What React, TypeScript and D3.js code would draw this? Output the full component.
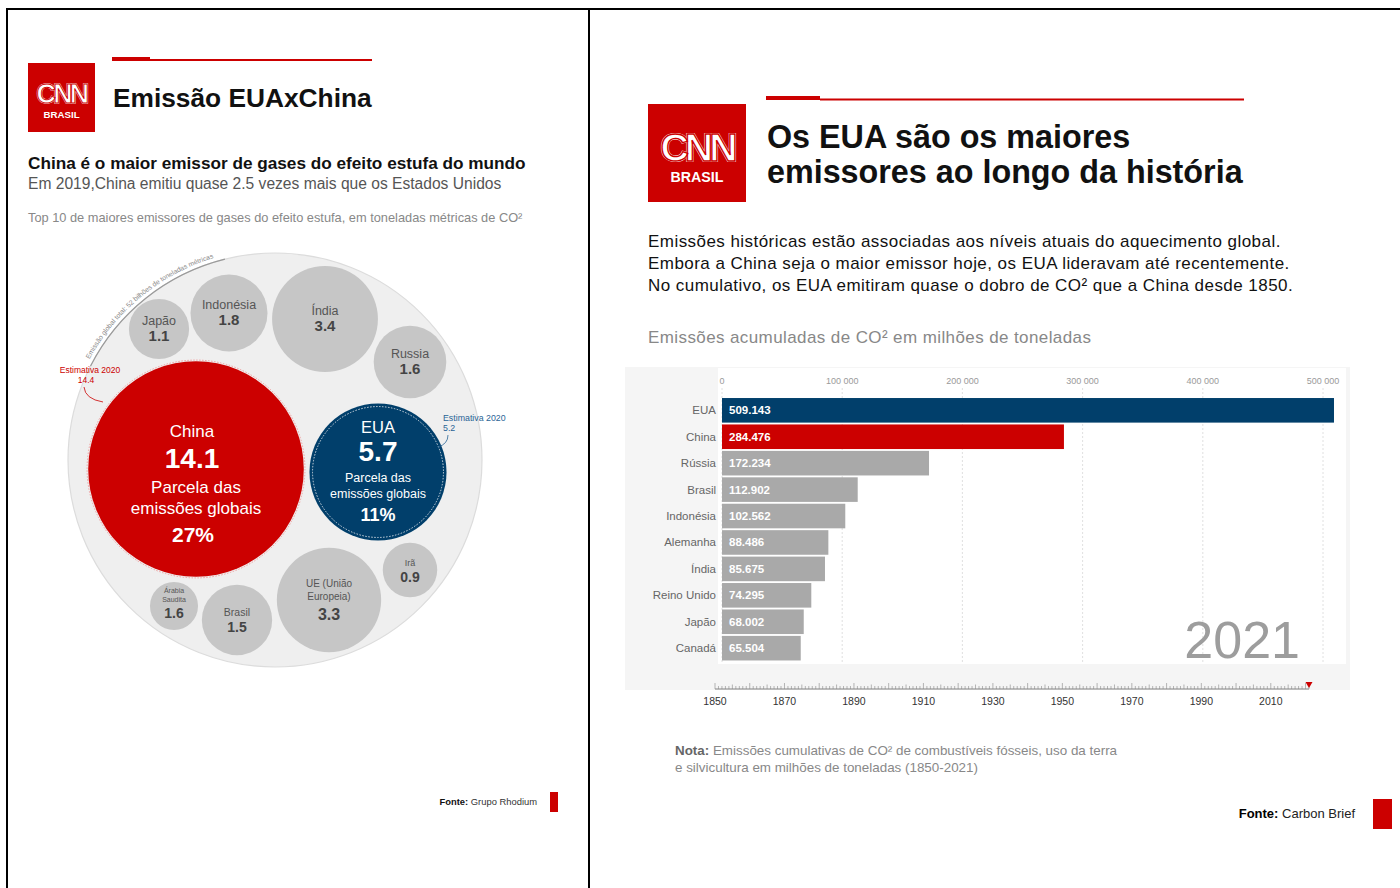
import React from "react";
import * as d3 from "d3";

// ---------- Left panel data (2019 emissions, billions of metric tons) ----------
const bubbleNames = ["China", "EUA", "Índia", "UE (União Europeia)", "Indonésia", "Russia", "Brasil", "Japão", "Irã", "Árabia Saudita"];
const bubbleValues = [14.1, 5.7, 3.4, 3.3, 1.8, 1.6, 1.5, 1.1, 0.9, 0.7]; // area as drawn
const bubbleValueLabels = ["14.1", "5.7", "3.4", "3.3", "1.8", "1.6", "1.5", "1.1", "0.9", "1.6"];
const globalTotal = 52;
const globalLabel = "Emissão global total: 52 bilhões de toneladas métricas";
const estimate2020China = 14.4;
const estimate2020US = 5.2;
const shareChina = "27%";
const shareUS = "11%";

// ---------- Right panel data (cumulative CO2 1850-2021, million tonnes) ----------
const countries = ["EUA", "China", "Rússia", "Brasil", "Indonésia", "Alemanha", "Índia", "Reino Unido", "Japão", "Canadá"];
const cumulative = [509143, 284476, 172234, 112902, 102562, 88486, 85675, 74295, 68002, 65504];
const valueTicks = [0, 100000, 200000, 300000, 400000, 500000];
const yearTicks = [1850, 1870, 1890, 1910, 1930, 1950, 1970, 1990, 2010];
const currentYear = 2021;

// ---------- Layout (not data) ----------
const OUTER = { cx: 275, cy: 460 };
const bubbleOffsets: [number, number][] = [
  [-79, 9], [103, 12], [50, -141], [54, 140], [-46, -147], [135, -98], [-38, 160], [-116, -131], [135, 110], [-101, 146],
];

const RED = "#cc0000";
const BLUE = "#013f6b";
const GREY_BAR = "#a9a9a9";
const SANS = "'Liberation Sans', Arial, sans-serif";
const NARROW = "'Liberation Sans Narrow', 'Liberation Sans', Arial, sans-serif";

function measure(text: string, font: string): number {
  if (typeof document === "undefined") return text.length * 3.5;
  const c = document.createElement("canvas").getContext("2d");
  if (!c) return text.length * 3.5;
  c.font = font;
  return c.measureText(text).width;
}

function CnnLogo({ x, y, w, h }: { x: number; y: number; w: number; h: number }) {
  const fs = w * 0.4;
  return (
    <g>
      <rect x={x} y={y} width={w} height={h} fill={RED} />
      <text x={x + w / 2} y={y + h * 0.58} textAnchor="middle" fontFamily={SANS} fontWeight="bold" fontSize={fs}
        fill="#fff" stroke="#fff" strokeWidth={fs * 0.05} letterSpacing={-fs * 0.1}>CNN</text>
      <text x={x + w / 2} y={y + h * 0.58} textAnchor="middle" fontFamily={SANS} fontWeight="bold" fontSize={fs}
        fill="none" stroke={RED} strokeWidth={fs * 0.035} letterSpacing={-fs * 0.1}>CNN</text>
      <text x={x + w / 2} y={y + h * 0.8} textAnchor="middle" fontFamily={SANS} fontWeight="bold" fontSize={w * 0.145}
        fill="#fff">BRASIL</text>
    </g>
  );
}

function LeftPanel() {
  const r = d3.scaleSqrt().domain([0, globalTotal]).range([0, 207]);
  const R = r(globalTotal);
  const arcR = R + 4;
  const deg = Math.PI / 180;
  const arcPath = d3.path();
  arcPath.arc(OUTER.cx, OUTER.cy, arcR, -152 * deg, -95 * deg, false);
  const darkArc = d3.path();
  darkArc.arc(OUTER.cx, OUTER.cy, R, -153 * deg, -104 * deg, false);

  // split arc label into words so each sits in its own small box
  const arcFont = "6.8px 'Liberation Sans', Arial, sans-serif";
  const words = globalLabel.split(" ");
  const spaceW = measure(" ", arcFont);
  let off = 2;
  const wordOffsets = words.map((w) => {
    const o = off;
    off += measure(w, arcFont) + spaceW;
    return o;
  });

  const pos = bubbleOffsets.map(([dx, dy]) => [OUTER.cx + dx, OUTER.cy + dy]);
  const [chx, chy] = pos[0];
  const [usx, usy] = pos[1];

  const smallLabel = (i: number) => {
    const [x, y] = pos[i];
    const name = bubbleNames[i];
    const val = bubbleValueLabels[i];
    if (i === 3) {
      return (
        <g key={i} fontFamily={SANS} textAnchor="middle">
          <text x={x} y={y - 13} fontSize={10} fill="#555">UE (União</text>
          <text x={x} y={y} fontSize={10} fill="#555">Europeia)</text>
          <text x={x} y={y + 20} fontSize={16} fontWeight="bold" fill="#444">{val}</text>
        </g>
      );
    }
    if (i === 9) {
      return (
        <g key={i} fontFamily={SANS} textAnchor="middle">
          <text x={x} y={y - 13} fontSize={7} fill="#555">Árabia</text>
          <text x={x} y={y - 4} fontSize={7} fill="#555">Saudita</text>
          <text x={x} y={y + 12} fontSize={14} fontWeight="bold" fill="#444">{val}</text>
        </g>
      );
    }
    const nameSize = i === 8 ? 9 : i === 6 ? 10.5 : 12.5;
    const valSize = i === 8 || i === 6 ? 14 : 15;
    return (
      <g key={i} fontFamily={SANS} textAnchor="middle">
        <text x={x} y={y - 4} fontSize={nameSize} fill="#555">{name}</text>
        <text x={x} y={y + 12} fontSize={valSize} fontWeight="bold" fill="#444">{val}</text>
      </g>
    );
  };

  return (
    <g>
      <rect x={112} y={57} width={38} height={4} fill={RED} />
      <rect x={150} y={59} width={222} height={2} fill={RED} />
      <CnnLogo x={28} y={63} w={67} h={69} />
      <text x={113} y={107} fontFamily={SANS} fontWeight="bold" fontSize={26.3} fill="#111">Emissão EUAxChina</text>
      <text x={28} y={169} fontFamily={SANS} fontWeight="bold" fontSize={17.2} fill="#111">China é o maior emissor de gases do efeito estufa do mundo</text>
      <text x={28} y={189} fontFamily={SANS} fontSize={15.6} fill="#555">Em 2019,China emitiu quase 2.5 vezes mais que os Estados Unidos</text>
      <text x={28} y={222} fontFamily={SANS} fontSize={12.8} fill="#888">Top 10 de maiores emissores de gases do efeito estufa, em toneladas métricas de CO²</text>

      <circle cx={OUTER.cx} cy={OUTER.cy} r={R} fill="#efefef" stroke="#dcdcdc" strokeWidth={1.2} />
      <path d={darkArc.toString()} fill="none" stroke="#9a9a9a" strokeWidth={1.2} />
      <path id="globalArc" d={arcPath.toString()} fill="none" stroke="none" />
      {words.map((w, i) => (
        <text key={i} fontFamily={SANS} fontSize={6.8} fill="#888">
          <textPath href="#globalArc" startOffset={wordOffsets[i]}>{w}</textPath>
        </text>
      ))}

      {bubbleValues.map((v, i) =>
        i < 2 ? null : <circle key={i} cx={pos[i][0]} cy={pos[i][1]} r={r(v)} fill="#c6c6c6" />
      )}
      {bubbleValues.map((_, i) => (i < 2 ? null : smallLabel(i)))}

      {/* China */}
      <circle cx={chx} cy={chy} r={r(bubbleValues[0])} fill={RED} />
      <circle cx={chx} cy={chy} r={r(estimate2020China)} fill="none" stroke="#f0a0a0" strokeWidth={1} strokeDasharray="1.5,1.5" />
      <g fontFamily={SANS} textAnchor="middle" fill="#fff">
        <text x={chx - 4} y={chy - 32} fontSize={17}>{bubbleNames[0]}</text>
        <text x={chx - 4} y={chy - 1} fontSize={28} fontWeight="bold">{bubbleValueLabels[0]}</text>
        <text x={chx} y={chy + 24} fontSize={17}>Parcela das</text>
        <text x={chx} y={chy + 45} fontSize={17}>emissões globais</text>
        <text x={chx - 3} y={chy + 73} fontSize={21} fontWeight="bold">{shareChina}</text>
      </g>
      <text x={90} y={373} textAnchor="middle" fontFamily={SANS} fontSize={8.5} fill={RED}>Estimativa 2020</text>
      <text x={86} y={383} textAnchor="middle" fontFamily={SANS} fontSize={8.5} fill={RED}>{estimate2020China}</text>
      <path d="M84,387 Q85,399 103,402" fill="none" stroke={RED} strokeWidth={0.8} />

      {/* EUA */}
      <circle cx={usx} cy={usy} r={r(bubbleValues[1])} fill={BLUE} />
      <circle cx={usx} cy={usy} r={r(estimate2020US)} fill="none" stroke="#cfd8e0" strokeWidth={1} strokeDasharray="1.5,1.5" />
      <g fontFamily={SANS} textAnchor="middle" fill="#fff">
        <text x={usx} y={usy - 39} fontSize={16.5}>{bubbleNames[1]}</text>
        <text x={usx} y={usy - 11} fontSize={28} fontWeight="bold">{bubbleValueLabels[1]}</text>
        <text x={usx} y={usy + 10} fontSize={12.5}>Parcela das</text>
        <text x={usx} y={usy + 26} fontSize={12.5}>emissões globais</text>
        <text x={usx} y={usy + 49} fontSize={18} fontWeight="bold">{shareUS}</text>
      </g>
      <text x={443} y={421} fontFamily={SANS} fontSize={8.8} fill="#2a6496">Estimativa 2020</text>
      <text x={443} y={431} fontFamily={SANS} fontSize={8.8} fill="#2a6496">{estimate2020US}</text>
      <path d="M448,435 Q448,444 438,447" fill="none" stroke="#2a6496" strokeWidth={0.8} />

      <text x={537} y={805} textAnchor="end" fontFamily={SANS} fontSize={9.4} fill="#333">
        <tspan fontWeight="bold" fill="#111">Fonte:</tspan> Grupo Rhodium
      </text>
      <rect x={550} y={792} width={8} height={20} fill={RED} />
    </g>
  );
}

function RightPanel() {
  const x = d3.scaleLinear().domain([0, 500000]).range([722, 1323]);
  const y = d3.scaleBand().domain(countries).range([397.5, 661]).paddingInner(0.07).paddingOuter(0.02);
  const t = d3.scaleLinear().domain([1850, currentYear]).range([715, 1309]);
  const fmtVal = (v: number) => d3.format(",")(v).replace(/,/g, ".");
  const fmtTick = (v: number) => d3.format(",")(v).replace(/,/g, " ");
  const years = d3.range(1850, currentYear + 1);
  const barColor = (i: number) => (i === 0 ? BLUE : i === 1 ? RED : GREY_BAR);

  return (
    <g>
      <rect x={766} y={96} width={54} height={4} fill={RED} />
      <rect x={820} y={98.5} width={424} height={2} fill={RED} />
      <CnnLogo x={648} y={104} w={98} h={98} />
      <text x={767} y={148} fontFamily={SANS} fontWeight="bold" fontSize={32.3} fill="#111">Os EUA são os maiores</text>
      <text x={767} y={183} fontFamily={SANS} fontWeight="bold" fontSize={32.3} fill="#111">emissores ao longo da história</text>
      <g fontFamily={SANS} fontSize={17} fill="#111" letterSpacing={0.45}>
        <text x={648} y={247}>Emissões históricas estão associadas aos níveis atuais do aquecimento global.</text>
        <text x={648} y={269}>Embora a China seja o maior emissor hoje, os EUA lideravam até recentemente.</text>
        <text x={648} y={291}>No cumulativo, os EUA emitiram quase o dobro de CO² que a China desde 1850.</text>
      </g>
      <text x={648} y={343} fontFamily={SANS} fontSize={17} letterSpacing={0.4} fill="#888">Emissões acumuladas de CO² em milhões de toneladas</text>

      <rect x={625} y={367} width={725} height={323} fill="#f5f5f5" />
      <rect x={718} y={368} width={628} height={296} fill="#ffffff" />

      {valueTicks.map((v) => (
        <g key={v}>
          <line x1={x(v)} x2={x(v)} y1={388} y2={664} stroke="#d8d8d8" strokeWidth={0.8} strokeDasharray="2,2" />
          <text x={x(v)} y={384} textAnchor="middle" fontFamily={NARROW} fontSize={9} fill="#9a9a9a">{fmtTick(v)}</text>
        </g>
      ))}

      {countries.map((c, i) => {
        const yy = y(c) as number;
        const bh = y.bandwidth();
        return (
          <g key={c}>
            <rect x={x(0)} y={yy} width={x(cumulative[i]) - x(0)} height={bh} fill={barColor(i)} />
            <text x={716} y={yy + bh / 2 + 4} textAnchor="end" fontFamily={NARROW} fontSize={11.5} fill="#666">{c}</text>
            <text x={x(0) + 7} y={yy + bh / 2 + 4} fontFamily={NARROW} fontWeight="bold" fontSize={11.5} fill="#fff">{fmtVal(cumulative[i])}</text>
          </g>
        );
      })}

      <text x={1300} y={658} textAnchor="end" fontFamily={NARROW} fontSize={52} fill="#9d9d9d">{currentYear}</text>

      <line x1={t(1850)} x2={t(currentYear)} y1={689} y2={689} stroke="#777" strokeWidth={0.9} />
      {years.map((yr) => (
        <line key={yr} x1={t(yr)} x2={t(yr)} y1={yr % 10 === 0 ? 683 : yr % 5 === 0 ? 684.5 : 686} y2={689} stroke="#888" strokeWidth={0.6} />
      ))}
      {yearTicks.map((yr) => (
        <text key={yr} x={t(yr)} y={705} textAnchor="middle" fontFamily={NARROW} fontSize={10.5} fill="#333">{yr}</text>
      ))}
      <path d={`M${t(currentYear) - 3.5},682 L${t(currentYear) + 3.5},682 L${t(currentYear)},688 Z`} fill={RED} />

      <g fontFamily={NARROW} fontSize={13.4} fill="#888">
        <text x={675} y={755}><tspan fontWeight="bold" fill="#666">Nota:</tspan> Emissões cumulativas de CO² de combustíveis fósseis, uso da terra</text>
        <text x={675} y={772}>e silvicultura em milhões de toneladas (1850-2021)</text>
      </g>
      <text x={1355} y={818} textAnchor="end" fontFamily={NARROW} fontSize={13} fill="#222">
        <tspan fontWeight="bold" fill="#000">Fonte:</tspan> Carbon Brief
      </text>
      <rect x={1373} y={799} width={19} height={30} fill={RED} />
    </g>
  );
}

export default function App() {
  return (
    <div style={{ position: "absolute", left: 0, top: 0, width: 1400, height: 888, overflow: "hidden", background: "#fff" }}>
      <svg width={1400} height={888} viewBox="0 0 1400 888" style={{ display: "block" }}>
        <rect x={0} y={0} width={1400} height={888} fill="#fff" />
        <LeftPanel />
        <RightPanel />
        <line x1={6} x2={1400} y1={9} y2={9} stroke="#000" strokeWidth={2} />
        <line x1={7} x2={7} y1={8} y2={888} stroke="#000" strokeWidth={2} />
        <line x1={589} x2={589} y1={8} y2={888} stroke="#000" strokeWidth={2} />
      </svg>
    </div>
  );
}
